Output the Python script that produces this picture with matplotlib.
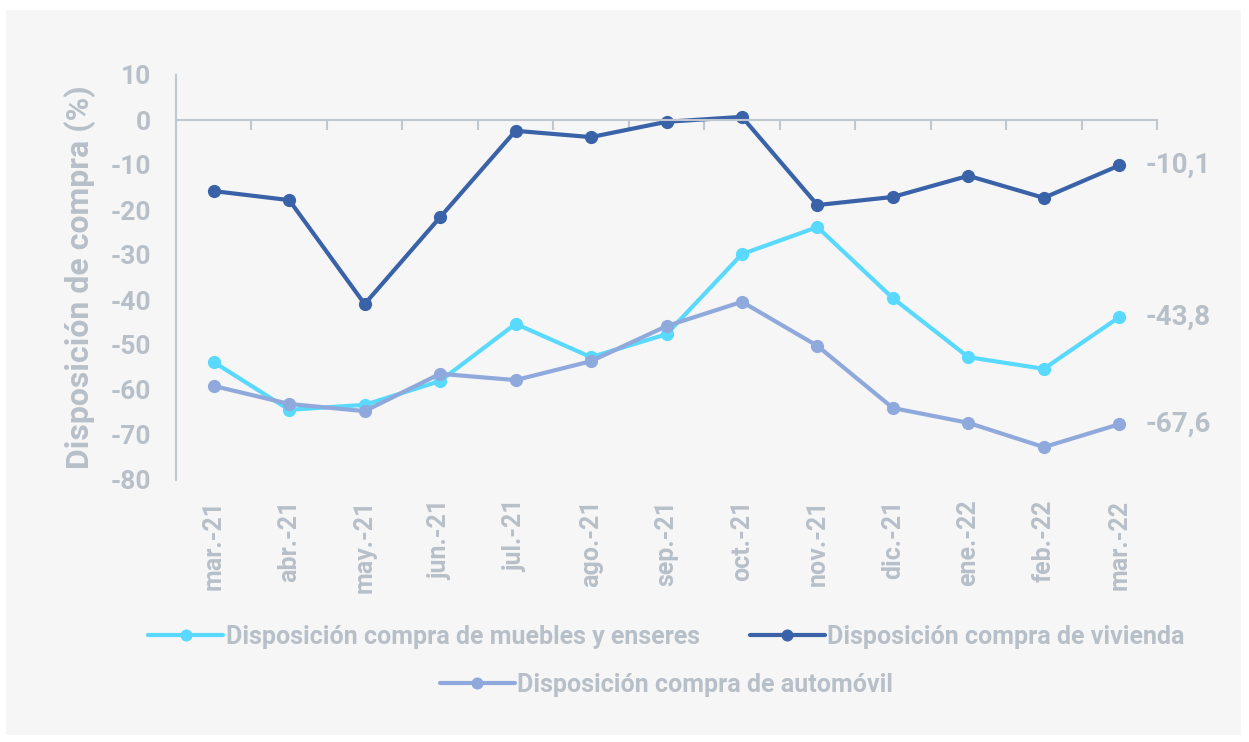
import matplotlib.pyplot as plt
from matplotlib.patches import Rectangle

months = ["mar.-21", "abr.-21", "may.-21", "jun.-21", "jul.-21", "ago.-21", "sep.-21",
          "oct.-21", "nov.-21", "dic.-21", "ene.-22", "feb.-22", "mar.-22"]
muebles = [-53.8, -64.4, -63.3, -58.0, -45.3, -52.7, -47.6, -29.8, -23.8, -39.6, -52.7, -55.3, -43.8]
vivienda = [-15.8, -17.8, -40.9, -21.6, -2.4, -3.8, -0.4, 0.7, -18.9, -17.1, -12.4, -17.3, -10.1]
automovil = [-59.1, -63.1, -64.7, -56.4, -57.8, -53.6, -45.8, -40.4, -50.2, -64.0, -67.3, -72.7, -67.6]
names = ["Disposición compra de muebles y enseres",
         "Disposición compra de vivienda",
         "Disposición compra de automóvil"]
colors = ["#59D9FD", "#3A62A8", "#8FA9DC"]

grey = "#B7BFC9"
axis_grey = "#C0C7D1"
plt.rcParams['font.family'] = ['Roboto', 'DejaVu Sans']
plt.rcParams['font.weight'] = 'bold'
plt.rcParams['axes.unicode_minus'] = False

fig = plt.figure(figsize=(12.49, 7.42), dpi=100)
fig.patch.set_facecolor("white")
fig.patches.append(Rectangle((6 / 1249, 1 - 735 / 742), 1235 / 1249, 725 / 742,
                             transform=fig.transFigure, facecolor="#F6F6F6",
                             edgecolor="none", zorder=-10))

ax = fig.add_axes([176 / 1249, 1 - 480 / 742, 981 / 1249, 405 / 742])
ax.set_facecolor("none")

x = list(range(len(months)))
series = [muebles, vivienda, automovil]
handles = []
for vals, name, c in zip(series, names, colors):
    ln, = ax.plot(x, vals, color=c, lw=3, marker="o", ms=8.5, label=name,
                  solid_capstyle="round")
    handles.append(ln)

for vals, c in zip([vivienda, muebles, automovil], colors):
    ax.annotate(f"{vals[-1]:.1f}".replace(".", ","), (x[-1], vals[-1]),
                xytext=(19, 0), textcoords="offset points", va="center", ha="left",
                fontsize=20, color=grey, fontweight="bold")

ax.set_xlim(-0.5, len(months) - 0.5)
ax.set_ylim(-80, 10)
ax.set_yticks(range(-80, 11, 10))
ax.tick_params(axis="y", length=0, pad=18, labelsize=19, labelcolor=grey)

for s in ["top", "right"]:
    ax.spines[s].set_visible(False)
ax.spines["left"].set_color(axis_grey)
ax.spines["left"].set_linewidth(1.5)
ax.spines["bottom"].set_position(("data", 0))
ax.spines["bottom"].set_color(axis_grey)
ax.spines["bottom"].set_linewidth(1.5)
ax.set_xticks([i - 0.5 for i in range(len(months) + 1)])
ax.set_xticklabels([])
ax.tick_params(axis="x", direction="out", length=7, width=1.5, color=axis_grey)

sec = ax.secondary_xaxis("bottom")
sec.set_xticks(x)
sec.set_xticklabels(months, rotation=90, fontsize=18, color=grey, fontweight="bold")
sec.tick_params(length=0, pad=14)
sec.spines["bottom"].set_visible(False)

ax.set_ylabel("Disposición de compra (%)", fontsize=23, color=grey, labelpad=10,
              fontweight="bold")

leg_kw = dict(frameon=False, labelcolor=grey, handlelength=3.0,
              handletextpad=0.1, markerscale=0.9,
              prop=dict(family=['Roboto', 'DejaVu Sans'], weight='bold', size=18))
leg1 = ax.legend(handles[:2], names[:2], ncol=2, loc="center",
                 bbox_to_anchor=(0.5, 1 - (637 - 75) / 405), columnspacing=2.0, **leg_kw)
ax.add_artist(leg1)
ax.legend(handles[2:], names[2:], loc="center",
          bbox_to_anchor=(0.5, 1 - (685 - 75) / 405), **leg_kw)

fig.savefig("out.png", dpi=100, facecolor=fig.get_facecolor())
